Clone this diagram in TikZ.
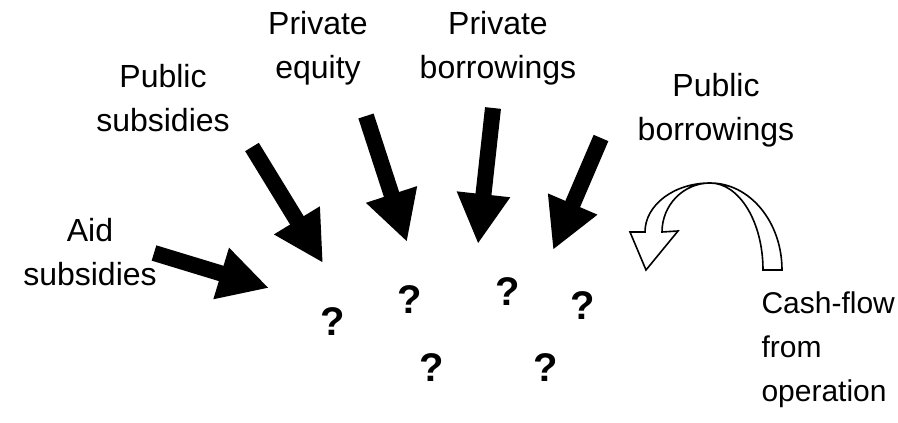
\documentclass[tikz,border=0pt]{standalone}
\usepackage{fontspec}
\setmainfont{Liberation Sans}
\usetikzlibrary{arrows.meta}
\begin{document}
\begin{tikzpicture}[x=1pt,y=1pt,
	lbl/.style={font=\fontsize{32}{44}\selectfont, align=center},
	qmark/.style={font=\fontsize{40}{44}\selectfont\bfseries},
	bigarrow/.style={line width=16pt, -{Triangle[length=50pt,width=50pt]}},
	bentarrow/.style={draw, fill=white, line width=1.6pt, line join=miter}]
	\useasboundingbox (0,0) rectangle (898,-423);
	% sources
	\node[lbl] (aid)     at (90,-252)  {Aid\\subsidies};
	\node[lbl] (pubsub)  at (163,-98)  {Public\\subsidies};
	\node[lbl] (priveq)  at (318,-48)  {Private\\equity};
	\node[lbl] (privbor) at (498,-48)  {Private\\borrowings};
	\node[lbl] (pubbor)  at (716,-110) {Public\\borrowings};
	\node[lbl, font=\fontsize{30}{44}\selectfont, align=left, anchor=west] (cash) at (758,-350) {Cash-flow\\from\\operation};
	% unknowns
	\node[qmark] (q1) at (333,-322) {?};
	\node[qmark] (q2) at (410,-300) {?};
	\node[qmark] (q3) at (508,-292) {?};
	\node[qmark] (q4) at (583,-306) {?};
	\node[qmark] (q5) at (432,-368) {?};
	\node[qmark] (q6) at (546,-368) {?};
	% arrow ends
	\coordinate (aidT)     at (154,-253);
	\coordinate (aidH)     at (269,-288);
	\coordinate (pubsubT)  at (252,-147);
	\coordinate (pubsubH)  at (323,-263);
	\coordinate (priveqT)  at (366,-116);
	\coordinate (priveqH)  at (407,-242);
	\coordinate (privborT) at (493,-108);
	\coordinate (privborH) at (478,-244);
	\coordinate (pubborT)  at (601,-138);
	\coordinate (pubborH)  at (553,-250);
	\draw[bigarrow] (aidT) -- (aidH);
	\draw[bigarrow] (pubsubT) -- (pubsubH);
	\draw[bigarrow] (priveqT) -- (priveqH);
	\draw[bigarrow] (privborT) -- (privborH);
	\draw[bigarrow] (pubborT) -- (pubborH);
	% curved arrow
	\path[bentarrow] (710,-183) arc[start angle=90, end angle=180, x radius=65, y radius=49]
		-- (630,-232) -- (646,-270) -- (678,-231) -- (662,-232)
		arc[start angle=180, end angle=90, x radius=48, y radius=49] -- cycle;
	\path[bentarrow] (782,-270) arc[start angle=0, end angle=90, x radius=72, y radius=87]
		arc[start angle=90, end angle=0, x radius=53, y radius=87] -- cycle;
\end{tikzpicture}
\end{document}
